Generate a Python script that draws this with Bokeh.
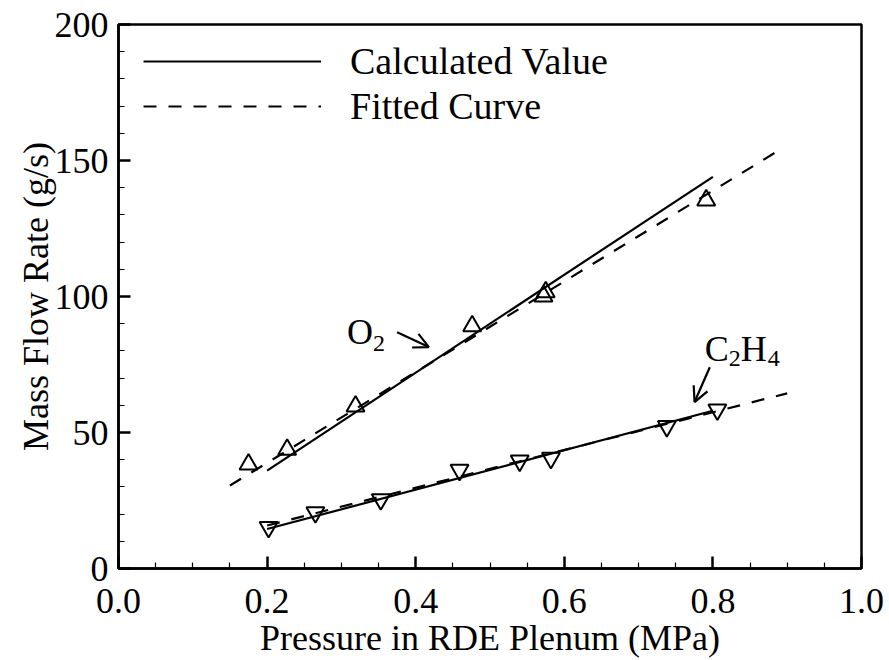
from bokeh.plotting import figure
from bokeh.models import (Range1d, FixedTicker, NumeralTickFormatter, Legend, LegendItem,
                          Label, Arrow, OpenHead)
from bokeh.embed import file_html
from bokeh.resources import INLINE

# Measured mass flow rates (g/s) against plenum pressure (MPa)
o2_pressure = [0.175, 0.227, 0.319, 0.476, 0.572, 0.575, 0.791]
o2_flow = [38.3, 43.7, 59.6, 89.1, 100.1, 101.6, 135.4]

c2h4_pressure = [0.202, 0.265, 0.353, 0.459, 0.540, 0.582, 0.738, 0.806]
c2h4_flow = [15.2, 20.6, 25.4, 36.2, 39.6, 40.6, 52.3, 58.4]

# Calculated (choked-orifice) values
calc_pressure = [0.2, 0.8]
o2_calc = [36.0, 144.0]
c2h4_calc = [14.5, 58.0]

# Linear fits through the measurements
o2_fit_pressure = [0.15, 0.885]
o2_fit = [30.5, 153.1]
c2h4_fit_pressure = [0.20, 0.90]
c2h4_fit = [15.8, 64.4]

x_ticks = [0.0, 0.2, 0.4, 0.6, 0.8, 1.0]
x_minor = [0.05, 0.1, 0.15, 0.25, 0.3, 0.35, 0.45, 0.5, 0.55, 0.65, 0.7, 0.75, 0.85, 0.9, 0.95]
y_ticks = [0, 50, 100, 150, 200]
y_minor = [v for v in range(0, 201, 10) if v % 50 != 0]

FONT = "'Liberation Serif', 'Times New Roman', serif"
LW = 2.2
DASH = "13 12"

p = figure(width=889, height=660, output_backend="svg", toolbar_location=None,
           x_range=Range1d(0, 1), y_range=Range1d(0, 200),
           min_border_left=118, min_border_right=28, min_border_top=24, min_border_bottom=92)
p.background_fill_color = "white"
p.border_fill_color = "white"
p.outline_line_color = "black"
p.outline_line_width = 2.5
p.xgrid.visible = False
p.ygrid.visible = False

for ax in (p.xaxis[0], p.yaxis[0]):
    ax.axis_line_width = 2.5
    ax.major_tick_in = 12
    ax.major_tick_out = 0
    ax.minor_tick_in = 6
    ax.minor_tick_out = 0
    ax.major_tick_line_width = 2.5
    ax.minor_tick_line_width = 1.2
    ax.major_label_text_font = FONT
    ax.major_label_text_font_size = "36px"
    ax.major_label_text_color = "black"
    ax.major_label_text_line_height = 0.9
    ax.axis_label_text_font = FONT
    ax.axis_label_text_font_size = "36px"
    ax.axis_label_text_font_style = "normal"
    ax.axis_label_text_color = "black"
    ax.axis_label_text_line_height = 0.9

p.xaxis.ticker = FixedTicker(ticks=x_ticks, minor_ticks=x_minor)
p.xaxis.formatter = NumeralTickFormatter(format="0.0")
p.xaxis.axis_label = "Pressure in RDE Plenum (MPa)"
p.xaxis.major_label_standoff = 20
p.xaxis.axis_label_standoff = 2

p.yaxis.ticker = FixedTicker(ticks=y_ticks, minor_ticks=y_minor)
p.yaxis.axis_label = "Mass Flow Rate (g/s)"
p.yaxis.major_label_standoff = 10
p.yaxis.axis_label_standoff = -4

# Calculated values (solid) and fitted curves (dashed)
calc_o2 = p.line(calc_pressure, o2_calc, line_color="black", line_width=LW)
p.line(calc_pressure, c2h4_calc, line_color="black", line_width=LW)
fit_o2 = p.line(o2_fit_pressure, o2_fit, line_color="black", line_width=LW, line_dash=DASH)
p.line(c2h4_fit_pressure, c2h4_fit, line_color="black", line_width=LW, line_dash=DASH)

# Measurements
p.scatter(o2_pressure, o2_flow, marker="triangle", size=18, fill_alpha=0,
          line_color="black", line_width=2)
p.scatter(c2h4_pressure, c2h4_flow, marker="inverted_triangle", size=18, fill_alpha=0,
          line_color="black", line_width=2)

legend = Legend(items=[LegendItem(label="Calculated Value", renderers=[calc_o2]),
                       LegendItem(label="Fitted Curve", renderers=[fit_o2])],
                location=(25, 440), glyph_width=178, glyph_height=40, label_height=40,
                label_standoff=29, spacing=1, padding=0, margin=0,
                label_text_font=FONT, label_text_font_size="38px", label_text_color="black",
                border_line_color=None, background_fill_alpha=0)
p.add_layout(legend)

# Species annotations with arrows
def add_label(x, y, text, size, dx=0, dy=0):
    p.add_layout(Label(x=x, y=y, x_offset=dx, y_offset=dy, text=text,
                       text_font=FONT, text_font_size=size, text_color="black",
                       text_baseline="alphabetic", text_align="left"))

add_label(0.3077, 86.9, "O", "36px")
add_label(0.3077, 86.9, "2", "24px", dx=26, dy=-11)
p.add_layout(Arrow(end=OpenHead(size=15, line_width=LW), x_start=0.375, y_start=86.9,
                   x_end=0.4177, y_end=81.4, line_width=LW, line_color="black"))

add_label(0.789, 80.8, "C", "36px")
add_label(0.789, 80.8, "2", "24px", dx=24, dy=-10)
add_label(0.789, 80.8, "H", "36px", dx=36)
add_label(0.789, 80.8, "4", "24px", dx=63, dy=-10)
p.add_layout(Arrow(end=OpenHead(size=15, line_width=LW), x_start=0.7958, y_start=74.0,
                   x_end=0.7753, y_end=61.2, line_width=LW, line_color="black"))

open("out.html", "w").write(file_html(p, INLINE))
